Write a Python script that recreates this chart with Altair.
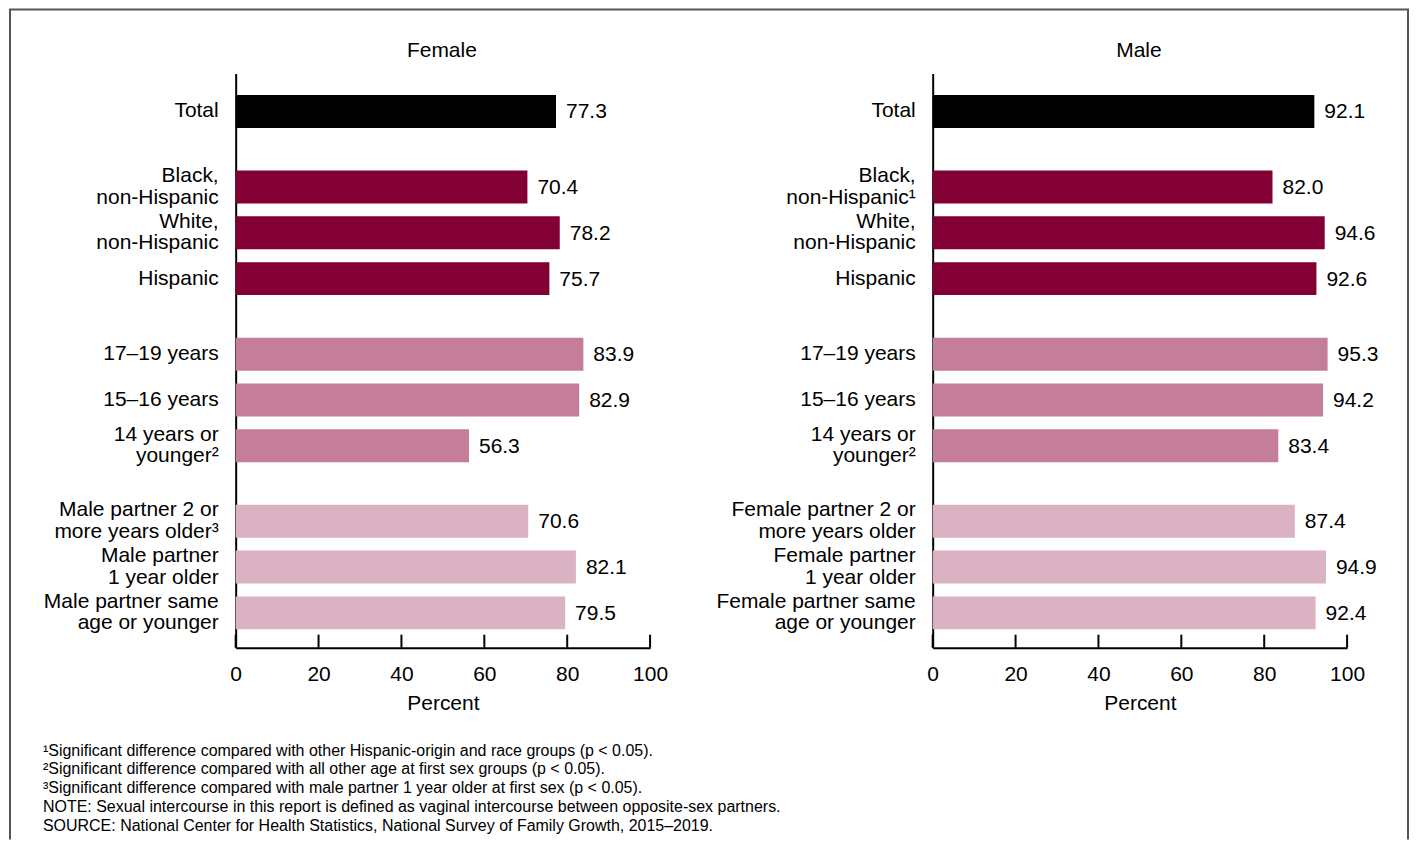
import altair as alt
import pandas as pd

female_labels = ["Total", "Black,\nnon-Hispanic", "White,\nnon-Hispanic", "Hispanic",
                 "17–19 years", "15–16 years", "14 years or\nyounger²",
                 "Male partner 2 or\nmore years older³", "Male partner\n1 year older",
                 "Male partner same\nage or younger"]
female_values = [77.3, 70.4, 78.2, 75.7, 83.9, 82.9, 56.3, 70.6, 82.1, 79.5]

male_labels = ["Total", "Black,\nnon-Hispanic¹", "White,\nnon-Hispanic", "Hispanic",
               "17–19 years", "15–16 years", "14 years or\nyounger²",
               "Female partner 2 or\nmore years older", "Female partner\n1 year older",
               "Female partner same\nage or younger"]
male_values = [92.1, 82.0, 94.6, 92.6, 95.3, 94.2, 83.4, 87.4, 94.9, 92.4]

group_index = [0, 1, 1, 1, 2, 2, 2, 3, 3, 3]
group_colors = ["#000000", "#820034", "#C47E9A", "#DBB2C4"]
tick_values = [0, 20, 40, 60, 80, 100]

footnotes = [
    "¹Significant difference compared with other Hispanic-origin and race groups (p < 0.05).",
    "²Significant difference compared with all other age at first sex groups (p < 0.05).",
    "³Significant difference compared with male partner 1 year older at first sex (p < 0.05).",
    "NOTE: Sexual intercourse in this report is defined as vaginal intercourse between opposite-sex partners.",
    "SOURCE: National Center for Health Statistics, National Survey of Family Growth, 2015–2019.",
]

FS = 21
W, H = 415, 575


def panel(title, labels, values, extras=False):
    df = pd.DataFrame({"label": labels, "value": values, "grp": group_index})
    df["pos"] = [i + g * 0.65 for i, g in enumerate(group_index)]
    df["nl"] = [s.count("\n") + 1 for s in labels]
    x = alt.X("value:Q", title="Percent",
              scale=alt.Scale(domain=[0, 100], nice=False, padding=0),
              axis=alt.Axis(values=tick_values, ticks=False, tickSize=0, grid=False,
                            labelFlush=False, labelOverlap=False,
                            labelFontSize=FS, labelPadding=16, domainColor="black",
                            domainWidth=2, titleFontSize=FS, titleFontWeight="normal",
                            titlePadding=8))
    y = alt.Y("pos:Q",
              scale=alt.Scale(domain=[-0.83, 11.71], reverse=True, nice=False, zero=False,
                              padding=0),
              axis=alt.Axis(labels=False, ticks=False, grid=False, domainColor="black",
                            domainWidth=2, title=None))
    base = alt.Chart(df)
    bars = base.mark_bar(orient="horizontal", size=33).encode(
        x=x, y=y,
        color=alt.Color("grp:O", scale=alt.Scale(domain=[0, 1, 2, 3], range=group_colors),
                        legend=None))
    vals = base.mark_text(align="left", baseline="middle", dx=10, dy=1, fontSize=FS,
                          color="black").encode(
        x="value:Q", y="pos:Q", text=alt.Text("value:Q", format=".1f"))
    cats1 = base.transform_filter("datum.nl == 1").mark_text(
        align="right", baseline="middle", fontSize=FS, color="black").encode(
        x=alt.value(-17), y="pos:Q", text="label:N")
    cats2 = base.transform_filter("datum.nl == 2").mark_text(
        align="right", baseline="middle", lineBreak="\n", lineHeight=21.5, dy=-11,
        fontSize=FS, color="black").encode(
        x=alt.value(-17), y="pos:Q", text="label:N")
    ticks = alt.Chart(pd.DataFrame({"t": tick_values})).mark_rule(
        color="black", strokeWidth=2).encode(
        x="t:Q", y=alt.value(H), y2=alt.value(H - 13))
    head = alt.Chart(pd.DataFrame({"t": [title]})).mark_text(
        align="center", baseline="middle", fontSize=FS, color="black").encode(
        x=alt.value(W / 2 - 1), y=alt.value(-23), text="t:N")
    layers = [bars, vals, cats1, cats2, ticks, head]
    if extras:
        one = alt.Chart(pd.DataFrame({"f": [0]}))
        frame_style = dict(color="#555555", strokeWidth=2)
        left = one.mark_rule(**frame_style).encode(
            x=alt.value(-226), y=alt.value(-64), y2=alt.value(767))
        right = one.mark_rule(**frame_style).encode(
            x=alt.value(1174), y=alt.value(-64), y2=alt.value(767))
        top = one.mark_rule(**frame_style).encode(
            x=alt.value(-227), x2=alt.value(1175), y=alt.value(-64))
        foot = alt.Chart(pd.DataFrame({"t": ["\n".join(footnotes)]})).mark_text(
            align="left", baseline="top", lineBreak="\n", lineHeight=19, fontSize=16,
            color="black").encode(
            x=alt.value(-193), y=alt.value(H + 95), text="t:N")
        layers += [left, right, top, foot]
    return alt.layer(*layers).properties(width=W, height=H)


female = panel("Female", female_labels, female_values, extras=True)
male = panel("Male", male_labels, male_values)

chart = alt.hconcat(
    female, male, spacing=283, bounds="flush", padding=0
).configure(font="Liberation Sans").configure_view(stroke=None)

chart.save("out.html", embed_options={"renderer": "svg", "actions": False})
